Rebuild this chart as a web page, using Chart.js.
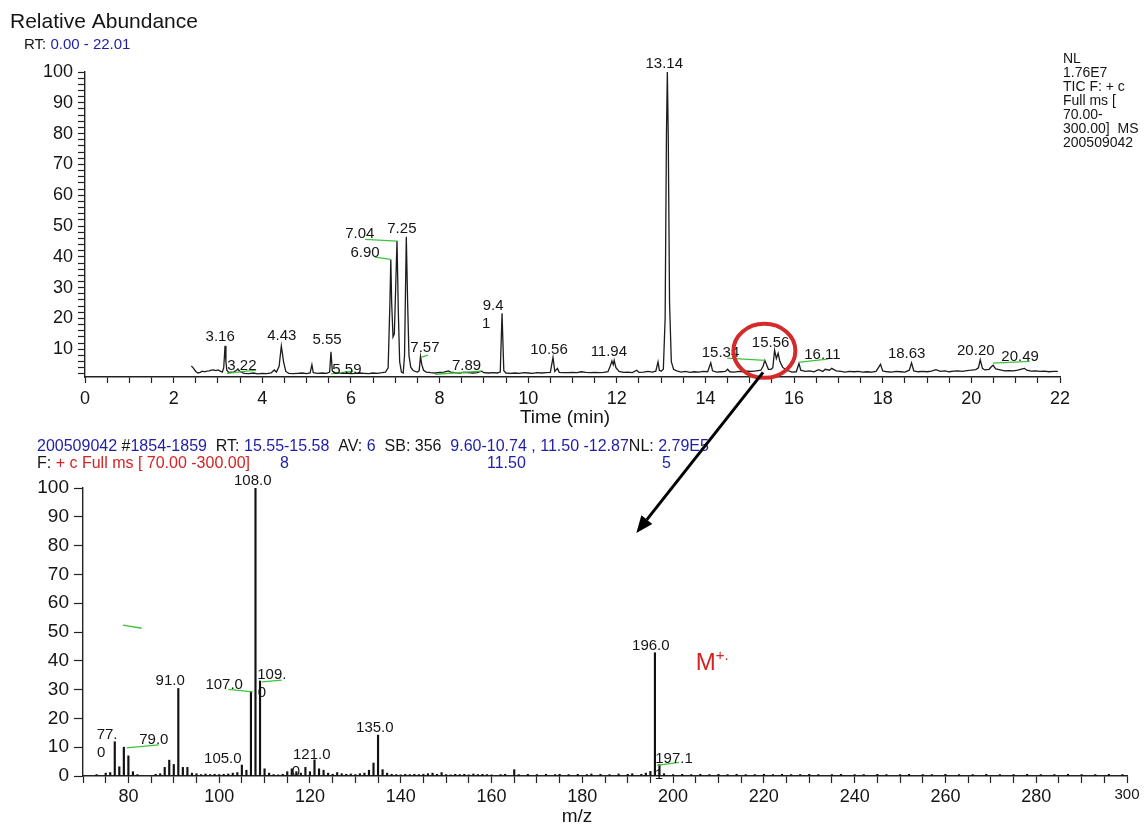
<!DOCTYPE html>
<html>
<head>
<meta charset="utf-8">
<script src="https://cdn.jsdelivr.net/npm/chart.js@4.4.1/dist/chart.umd.min.js"></script>
<style>
  html, body { margin: 0; padding: 0; background: #fff; }
  #wrap { position: relative; width: 1147px; height: 827px; overflow: hidden; }
  canvas { position: absolute; left: 0; }
  #tic { top: 0; }
  #ms { top: 430px; }
  #over { top: 0; pointer-events: none; }
</style>
</head>
<body>
<div id="wrap">
  <canvas id="tic" width="1147" height="430"></canvas>
  <canvas id="ms" width="1147" height="397"></canvas>
  <canvas id="over" width="1147" height="827"></canvas>
</div>
<script>
const FONT = '"Liberation Sans", Arial, Helvetica, sans-serif';
const BLUE = '#1e1ea6';
const RED = '#d42323';
const GREEN = '#3cc43c';
const INK = '#151515';

// TIC chromatogram: [retention time (min), relative abundance %]
const ticPoints = [
  [2.40,4.6],[2.45,3.8],[2.50,2.8],[2.55,2.3],[2.60,2.5],[2.65,2.9],[2.70,2.7],[2.75,2.9],
  [2.80,3.0],[2.85,3.2],[2.90,3.3],[2.95,3.1],[3.00,3.3],[3.05,2.9],[3.10,2.6],[3.13,4.0],
  [3.16,11.1],[3.18,6.0],[3.20,3.2],[3.25,2.4],[3.30,2.6],[3.35,2.5],[3.40,3.0],[3.45,3.5],
  [3.50,2.8],[3.55,2.4],[3.60,2.2],[3.70,2.1],[3.80,2.3],[3.90,2.0],[4.00,2.2],[4.10,2.1],
  [4.20,2.3],[4.27,3.3],[4.32,2.6],[4.38,4.5],[4.43,11.1],[4.48,6.0],[4.53,2.8],[4.60,2.2],
  [4.70,2.1],[4.80,2.2],[4.90,2.3],[5.00,2.1],[5.08,2.3],[5.12,5.0],[5.15,2.4],[5.25,2.2],
  [5.35,2.3],[5.45,2.2],[5.52,2.6],[5.55,9.2],[5.58,3.0],[5.62,2.5],[5.70,2.3],[5.80,2.2],
  [5.90,2.3],[6.00,2.1],[6.10,2.2],[6.20,2.3],[6.30,2.2],[6.40,2.1],[6.50,2.3],[6.60,2.2],
  [6.70,2.4],[6.78,2.6],[6.84,4.0],[6.88,25],[6.90,39.1],[6.92,25],[6.95,14],[6.98,15],
  [7.01,30],[7.04,45.2],[7.07,22],[7.10,6],[7.14,2.6],[7.18,2.3],[7.21,8],[7.25,46.5],
  [7.28,25],[7.31,8],[7.35,4.2],[7.40,3.2],[7.45,2.8],[7.50,2.6],[7.54,3.0],[7.57,7.7],
  [7.60,5.0],[7.64,3.2],[7.70,2.6],[7.80,2.4],[7.90,2.3],[8.00,2.5],[8.10,2.6],[8.20,3.0],
  [8.25,2.6],[8.35,2.4],[8.45,2.3],[8.55,2.5],[8.65,2.4],[8.75,2.3],[8.85,2.4],[8.95,2.9],
  [9.00,2.4],[9.10,2.3],[9.20,2.4],[9.30,2.3],[9.37,2.6],[9.41,21.7],[9.45,3.0],[9.50,2.3],
  [9.60,2.2],[9.70,2.3],[9.80,2.2],[9.90,2.4],[10.00,2.3],[10.10,2.2],[10.20,2.4],[10.30,2.3],
  [10.40,2.4],[10.50,2.5],[10.56,7.4],[10.60,2.8],[10.66,3.8],[10.70,2.5],[10.80,2.4],[10.90,2.4],
  [11.00,2.5],[11.10,2.4],[11.20,2.7],[11.30,2.5],[11.40,2.4],[11.50,2.5],[11.60,2.4],[11.70,2.5],
  [11.80,2.7],[11.85,4.5],[11.89,6.2],[11.92,5.0],[11.94,6.4],[11.98,4.0],[12.05,2.8],[12.15,2.5],
  [12.25,2.6],[12.35,2.4],[12.45,3.2],[12.50,2.5],[12.60,2.6],[12.70,2.8],[12.80,2.6],[12.88,2.9],
  [12.93,5.9],[12.96,3.2],[13.00,2.9],[13.05,3.5],[13.09,20],[13.12,80],[13.14,100],[13.16,80],
  [13.19,25],[13.23,6],[13.28,3.5],[13.35,3.0],[13.45,2.6],[13.55,2.8],[13.65,2.5],[13.75,2.7],
  [13.85,2.6],[13.95,2.8],[14.05,2.7],[14.12,5.6],[14.16,3.0],[14.25,2.6],[14.35,2.7],[14.45,2.8],
  [14.50,3.5],[14.55,2.7],[14.65,2.6],[14.75,2.8],[14.85,2.7],[14.95,2.9],[15.05,2.8],[15.15,3.0],
  [15.25,3.2],[15.30,4.5],[15.34,6.4],[15.38,5.0],[15.42,3.5],[15.48,3.5],[15.52,4.0],[15.56,9.7],
  [15.60,7.0],[15.64,8.7],[15.68,6.0],[15.74,4.2],[15.80,3.5],[15.88,3.0],[15.95,2.6],[16.05,2.7],
  [16.11,5.4],[16.15,3.2],[16.25,2.8],[16.35,3.0],[16.45,2.7],[16.55,3.4],[16.65,2.8],[16.70,3.5],
  [16.80,3.2],[16.85,3.8],[16.95,3.0],[17.05,2.8],[17.15,2.6],[17.25,2.8],[17.35,2.7],[17.45,2.8],
  [17.55,2.6],[17.65,2.7],[17.75,2.6],[17.85,2.8],[17.95,5.1],[18.00,3.0],[18.10,2.7],[18.20,2.6],
  [18.30,2.8],[18.40,2.7],[18.50,2.6],[18.60,3.2],[18.65,5.6],[18.70,3.0],[18.80,2.7],[18.90,2.8],
  [19.00,2.7],[19.10,2.9],[19.20,3.4],[19.30,2.8],[19.40,3.0],[19.50,2.7],[19.60,2.9],[19.70,3.0],
  [19.80,2.8],[19.90,3.1],[20.00,3.2],[20.10,3.4],[20.16,4.0],[20.20,6.6],[20.25,3.8],[20.30,3.3],
  [20.40,3.5],[20.45,4.3],[20.49,4.8],[20.55,3.6],[20.65,3.3],[20.75,3.0],[20.85,3.1],[20.95,3.0],
  [21.05,3.2],[21.15,3.6],[21.20,3.8],[21.25,3.2],[21.35,2.9],[21.45,3.0],[21.55,2.8],[21.65,2.9],
  [21.75,2.7],[21.85,2.8],[21.95,2.8]
];

// mass spectrum at RT 15.55-15.58: [m/z, relative abundance %]
const spectrumPeaks = [
  [73,0.5],[75,1.0],[76,1.2],[77,11.9],[78,3.2],[79,10.0],[80,7.0],[81,1.5],[82,0.5],
  [86,0.6],[87,0.8],[88,3.0],[89,5.5],[90,4.0],[91,30.4],[92,3.0],[93,3.0],[94,1.0],[95,0.8],
  [96,0.5],[97,0.7],[98,0.5],[99,0.6],[100,0.5],[101,0.6],[102,0.7],[103,1.0],[104,1.2],
  [105,3.8],[106,2.0],[107,29.3],[108,100],[109,33],[110,2.5],[111,1.0],[112,0.5],[113,0.4],
  [114,0.6],[115,1.5],[116,2.5],[117,1.5],[118,1.0],[119,3.0],[120,1.5],[121,5.6],[122,2.5],
  [123,2.0],[124,1.0],[125,0.6],[126,1.2],[127,0.8],[128,0.6],[129,0.7],[130,0.5],[131,0.8],
  [132,1.0],[133,2.0],[134,4.5],[135,14.2],[136,2.2],[137,1.0],[138,0.6],[139,0.5],[140,0.4],
  [141,0.6],[142,0.5],[143,0.6],[144,0.5],[145,0.6],[146,0.8],[147,1.0],[148,0.6],[149,1.2],
  [150,0.5],[151,0.4],[152,0.6],[153,0.5],[154,0.6],[155,0.4],[156,0.7],[157,0.5],[158,0.6],
  [159,0.5],[160,0.4],[162,0.5],[163,0.6],[165,2.2],[166,0.5],[168,0.6],[170,0.5],[172,0.6],
  [174,0.5],[175,0.6],[177,0.5],[179,0.6],[181,0.5],[182,0.7],[184,0.6],[186,0.5],[188,0.7],
  [190,0.6],[191,0.8],[193,0.6],[194,1.0],[195,1.6],[196,42.8],[197,4.0],[198,0.8],[200,0.5],
  [202,0.6],[204,0.5],[206,0.6],[208,0.5],[210,0.6],[212,0.5],[214,0.6],[216,0.5],[218,0.5],
  [220,0.6],[222,0.5],[224,0.6],[226,0.5],[228,0.5],[230,0.6],[232,0.5],[235,0.5],[237,0.6],
  [240,0.5],[242,0.5],[245,0.6],[247,0.5],[250,0.5],[252,0.6],[255,0.5],[257,0.5],[260,0.6],
  [263,0.5],[266,0.5],[269,0.6],[272,0.5],[275,0.5],[278,0.6],[281,0.5],[284,0.5],[287,0.6],
  [290,0.5],[293,0.5],[296,0.6],[299,0.5]
];

// tick labels
const rtTickLabels = [0, 2, 4, 6, 8, 10, 12, 14, 16, 18, 20, 22];
const ticTickLabels = [10, 20, 30, 40, 50, 60, 70, 80, 90, 100];
const mzTickLabels = [80, 100, 120, 140, 160, 180, 200, 220, 240, 260, 280, 300];
const msTickLabels = [0, 10, 20, 30, 40, 50, 60, 70, 80, 90, 100];

// minor tick positions (axis furniture only)
const rtTickValues = [];
for (let t = 0; t <= 22; t += 0.5) rtTickValues.push(t);
const ticTickValues = [];
for (let v = 2; v <= 100; v += 2) ticTickValues.push(v);
const mzTickValues = [];
for (let m = 70; m <= 300; m += 5) mzTickValues.push(m);

// peak annotations, placed in data units [text, x, y]
const ticLabels = [
  ['13.14', 13.07, 102.5], ['7.04', 6.20, 47.3], ['7.25', 7.15, 49.0], ['6.90', 6.32, 41.2],
  ['9.4', 9.21, 24.0], ['1', 9.05, 18.4], ['3.16', 3.05, 13.9], ['4.43', 4.44, 14.2],
  ['5.55', 5.46, 12.9], ['3.22', 3.54, 4.5], ['5.59', 5.91, 3.2], ['7.57', 7.67, 10.3],
  ['7.89', 8.61, 4.5], ['10.56', 10.47, 9.9], ['11.94', 11.82, 9.1], ['15.34', 14.34, 8.8],
  ['15.56', 15.47, 12.2], ['16.11', 16.64, 8.3], ['18.63', 18.54, 8.6], ['20.20', 20.10, 9.4],
  ['20.49', 21.10, 7.5]
];
const ticLeaders = [
  [3.20,2.2,3.86,3.2], [5.55,2.0,6.05,2.9], [7.58,7.4,7.74,8.1], [7.90,1.9,8.94,2.9],
  [6.32,45.7,7.04,45.1], [6.54,39.9,6.90,39.2], [14.49,7.1,15.34,6.4], [16.13,5.8,16.76,6.8],
  [20.49,5.5,21.32,6.1]
];
const msLabels = [
  ['108.0', 107.4, 102.5], ['91.0', 89.2, 33.1], ['107.0', 101.1, 31.6], ['109.', 111.6, 35.1],
  ['0', 109.4, 28.7], ['77.', 75.3, 14.2], ['0', 74.0, 7.9], ['79.0', 85.6, 12.5],
  ['105.0', 100.8, 6.1], ['121.0', 120.4, 7.5], ['0', 116.9, 1.5], ['135.0', 134.3, 16.6],
  ['196.0', 195.1, 45.2], ['197.1', 200.2, 6.0], ['1', 196.9, 0.3]
];
const msLeaders = [
  [102.0,30.1,107.4,29.2], [109.4,32.7,113.8,33.3], [79.6,9.8,86.7,10.8],
  [78.8,52.4,82.9,51.3], [196.5,3.7,201.3,4.7]
];

function drawRuns(ctx, x, y, runs, size) {
  ctx.font = size + 'px ' + FONT;
  ctx.textAlign = 'left';
  ctx.textBaseline = 'alphabetic';
  for (const [txt, col] of runs) {
    ctx.fillStyle = col;
    ctx.fillText(txt, x, y);
    x += ctx.measureText(txt).width;
  }
}

function drawLabels(chart, list, size) {
  const { ctx, scales: { x, y } } = chart;
  ctx.save();
  ctx.font = size + 'px ' + FONT;
  ctx.fillStyle = INK;
  ctx.textAlign = 'center';
  ctx.textBaseline = 'middle';
  for (const [txt, vx, vy] of list) ctx.fillText(txt, x.getPixelForValue(vx), y.getPixelForValue(vy));
  ctx.restore();
}

function drawLeaders(chart, list) {
  const { ctx, scales: { x, y } } = chart;
  ctx.save();
  ctx.strokeStyle = GREEN;
  ctx.lineWidth = 1.3;
  for (const [x1, y1, x2, y2] of list) {
    ctx.beginPath();
    ctx.moveTo(x.getPixelForValue(x1), y.getPixelForValue(y1));
    ctx.lineTo(x.getPixelForValue(x2), y.getPixelForValue(y2));
    ctx.stroke();
  }
  ctx.restore();
}

const ticDecor = {
  id: 'ticDecor',
  afterDatasetsDraw(chart) {
    const ctx = chart.ctx;
    drawLeaders(chart, ticLeaders);
    drawLabels(chart, ticLabels, 15);
    ctx.save();
    ctx.fillStyle = INK;
    ctx.font = '21px ' + FONT;
    ctx.fillText('Relative Abundance', 10, 28);
    drawRuns(ctx, 24, 49, [['RT: ', INK], ['0.00 - 22.01', BLUE]], 15);
    const nl = ['NL', '1.76E7', 'TIC F: + c', 'Full ms [', '70.00-', '300.00]  MS', '200509042'];
    ctx.font = '14px ' + FONT;
    ctx.fillStyle = INK;
    ctx.textBaseline = 'middle';
    nl.forEach((s, i) => ctx.fillText(s, 1063, 59 + i * 14.1));
    ctx.font = '19px ' + FONT;
    ctx.textAlign = 'center';
    ctx.fillText('Time (min)', 565, 418);
    ctx.restore();
  }
};

const msDecor = {
  id: 'msDecor',
  afterDatasetsDraw(chart) {
    const ctx = chart.ctx;
    drawLeaders(chart, msLeaders);
    drawLabels(chart, msLabels, 15);
    ctx.save();
    // header lines (page y - 430)
    const line1 = [
      ['200509042 ', BLUE], ['#', INK], ['1854-1859  ', BLUE], ['RT: ', INK], ['15.55-15.58  ', BLUE],
      ['AV: ', INK], ['6  ', BLUE], ['SB: 356  ', INK], ['9.60-10.74 , 11.50 -12.87', BLUE],
      ['NL: ', INK], ['2.79E5', BLUE]
    ];
    ctx.font = '14px ' + FONT;
    const w = line1.reduce((a, r) => a + ctx.measureText(r[0]).width, 0);
    const size = 14 * 672 / w;
    drawRuns(ctx, 37, 21, line1, size);
    drawRuns(ctx, 37, 38, [['F: ', INK], ['+ c Full ms [ 70.00 -300.00]', RED]], size);
    drawRuns(ctx, 280, 38, [['8', BLUE]], size);
    drawRuns(ctx, 487, 38, [['11.50', BLUE]], size);
    drawRuns(ctx, 662, 38, [['5', BLUE]], size);
    // molecular ion marker M+.
    const mx = chart.scales.x.getPixelForValue(205);
    const my = chart.scales.y.getPixelForValue(39.2);
    ctx.fillStyle = RED;
    ctx.font = '24px ' + FONT;
    ctx.textBaseline = 'middle';
    ctx.textAlign = 'left';
    ctx.fillText('M', mx, my);
    ctx.font = '15px ' + FONT;
    ctx.fillText('+.', mx + 20, my - 7);
    ctx.fillStyle = INK;
    ctx.font = '19px ' + FONT;
    ctx.textAlign = 'center';
    ctx.fillText('m/z', 577, 387);
    ctx.restore();
  }
};

const axisGrid = (len) => ({
  drawOnChartArea: false, drawTicks: true, tickLength: len, color: '#222', tickWidth: 1.2
});
const axisBorder = { display: true, color: '#222', width: 1.4 };

const ticChart = new Chart(document.getElementById('tic'), {
  type: 'line',
  data: {
    datasets: [{
      data: ticPoints.map(([x, y]) => ({ x, y })),
      borderColor: '#1c1c1c',
      borderWidth: 1.3,
      pointRadius: 0,
      tension: 0,
      fill: false
    }]
  },
  options: {
    responsive: false,
    animation: false,
    layout: { padding: { left: 0, top: 72, right: 87, bottom: 2 } },
    plugins: { legend: { display: false }, tooltip: { enabled: false } },
    scales: {
      x: {
        type: 'linear', min: 0, max: 22,
        afterFit: s => { s.height = 51; },
        afterBuildTicks: s => { s.ticks = rtTickValues.map(v => ({ value: v })); },
        ticks: {
          autoSkip: false, maxRotation: 0, padding: 5, color: INK,
          font: { family: FONT, size: 18 },
          callback: v => rtTickLabels.includes(v) ? String(v) : ''
        },
        grid: axisGrid(6),
        border: axisBorder
      },
      y: {
        min: 1, max: 100,
        afterFit: s => { s.width = 85; },
        afterBuildTicks: s => { s.ticks = ticTickValues.map(v => ({ value: v })); },
        ticks: {
          autoSkip: false, padding: 5, color: INK,
          font: { family: FONT, size: 18 },
          callback: v => ticTickLabels.includes(v) ? String(v) : ''
        },
        grid: axisGrid(7),
        border: axisBorder
      }
    }
  },
  plugins: [ticDecor]
});

const msChart = new Chart(document.getElementById('ms'), {
  type: 'bar',
  data: {
    datasets: [{
      data: spectrumPeaks.map(([x, y]) => ({ x, y })),
      backgroundColor: '#111',
      borderWidth: 0,
      barThickness: 1.5
    }]
  },
  options: {
    responsive: false,
    animation: false,
    layout: { padding: { left: 0, top: 58, right: 20, bottom: 3 } },
    plugins: { legend: { display: false }, tooltip: { enabled: false } },
    scales: {
      x: {
        type: 'linear', min: 70, max: 300, offset: false,
        afterFit: s => { s.height = 48; },
        afterBuildTicks: s => { s.ticks = mzTickValues.map(v => ({ value: v })); },
        ticks: {
          autoSkip: false, maxRotation: 0, padding: 3, color: INK,
          font: c => ({ family: FONT, size: c.tick && c.tick.value === 300 ? 15 : 18 }),
          callback: v => mzTickLabels.includes(v) ? String(v) : ''
        },
        grid: { ...axisGrid(7), offset: false },
        border: axisBorder
      },
      y: {
        min: 0, max: 100,
        afterFit: s => { s.width = 83; },
        afterBuildTicks: s => { s.ticks = msTickLabels.map(v => ({ value: v })); },
        ticks: {
          autoSkip: false, padding: 5, color: INK,
          font: { family: FONT, size: 19 }
        },
        grid: axisGrid(9),
        border: axisBorder
      }
    }
  },
  plugins: [msDecor]
});

// red circle around the 15.56 peak and the arrow down to its spectrum
const ov = document.getElementById('over').getContext('2d');
const tx = ticChart.scales.x, ty = ticChart.scales.y;
const mxs = msChart.scales.x, mys = msChart.scales.y;
ov.strokeStyle = '#d42a2a';
ov.lineWidth = 4;
ov.beginPath();
ov.ellipse(tx.getPixelForValue(15.33), ty.getPixelForValue(9.5), 31, 27, 0, 0, Math.PI * 2);
ov.stroke();

const x0 = tx.getPixelForValue(15.30), y0 = ty.getPixelForValue(2.5);
const x1 = mxs.getPixelForValue(191.9), y1 = 430 + mys.getPixelForValue(84.4);
const ang = Math.atan2(y1 - y0, x1 - x0);
const headLen = 17, headW = 7;
const bxp = x1 - headLen * Math.cos(ang), byp = y1 - headLen * Math.sin(ang);
ov.strokeStyle = '#000';
ov.lineWidth = 3;
ov.beginPath();
ov.moveTo(x0, y0);
ov.lineTo(bxp, byp);
ov.stroke();
ov.fillStyle = '#000';
ov.beginPath();
ov.moveTo(x1, y1);
ov.lineTo(bxp + headW * Math.sin(ang), byp - headW * Math.cos(ang));
ov.lineTo(bxp - headW * Math.sin(ang), byp + headW * Math.cos(ang));
ov.closePath();
ov.fill();
</script>
</body>
</html>
